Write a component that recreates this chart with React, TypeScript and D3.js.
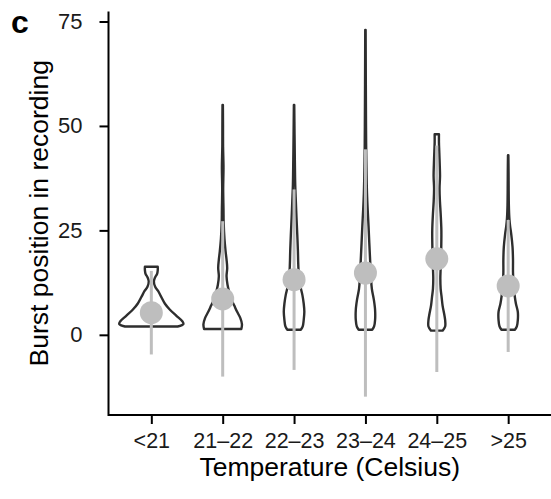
import React, { useRef, useEffect } from 'react'
import * as d3 from 'd3'

// temperature bins
const categories = ['<21', '21–22', '22–23', '23–24', '24–25', '>25']

// mean and sd of burst position per bin
const means = [5.3, 8.6, 13.2, 14.8, 18.2, 11.7]
const sds = [10, 18.6, 21.6, 29.6, 27.1, 15.8]

// violin profiles: [burst position, relative density]
const violinLt21: [number, number][] = [
  [2.0, 0.82], [2.6, 1.0], [3.2, 0.97], [4.5, 0.79], [6.0, 0.58], [7.5, 0.42],
  [9.2, 0.3], [10.5, 0.21], [11.5, 0.12], [12.8, 0.08], [13.8, 0.12],
  [14.6, 0.18], [15.5, 0.2], [16.3, 0.2]
]
const violin2122: [number, number][] = [
  [1.4, 0.58], [2.5, 0.6], [4, 0.55], [5.5, 0.45], [7, 0.36], [8.5, 0.27],
  [10, 0.21], [12, 0.15], [14, 0.12], [16, 0.14], [18, 0.12], [20, 0.09],
  [23, 0.055], [27, 0.03], [30, 0.025], [35, 0.015], [40, 0.025],
  [45, 0.012], [50, 0.01], [55, 0.006]
]
const violin2223: [number, number][] = [
  [1.2, 0.21], [2, 0.27], [3.5, 0.3], [5.5, 0.32], [7.5, 0.3], [9.5, 0.26],
  [11.5, 0.2], [14, 0.15], [17, 0.13], [20, 0.12], [24, 0.1], [28, 0.076],
  [32, 0.055], [36, 0.036], [42, 0.024], [48, 0.015], [55, 0.006]
]
const violin2324: [number, number][] = [
  [1.2, 0.21], [2, 0.27], [3.5, 0.3], [6, 0.3], [8.5, 0.26], [11, 0.2],
  [14, 0.17], [18, 0.145], [22, 0.12], [26, 0.097], [30, 0.07], [34, 0.048],
  [38, 0.036], [44, 0.024], [50, 0.018], [60, 0.012], [73, 0.006]
]
const violin2425: [number, number][] = [
  [1.0, 0.18], [2, 0.26], [3.5, 0.26], [5, 0.23], [7, 0.18], [9, 0.15],
  [11, 0.12], [13.5, 0.11], [16, 0.12], [20, 0.136], [25, 0.142], [29, 0.12],
  [32, 0.097], [35, 0.085], [38, 0.1], [41, 0.09], [44, 0.076], [46, 0.067],
  [48, 0.067]
]
const violinGt25: [number, number][] = [
  [1.2, 0.21], [2, 0.27], [3.5, 0.3], [5.5, 0.3], [7.5, 0.24], [9.5, 0.2],
  [12, 0.167], [15, 0.15], [18, 0.15], [21, 0.136], [24, 0.097], [26, 0.06],
  [28, 0.036], [31, 0.021], [35, 0.015], [39, 0.012], [43, 0.006]
]
const violins = [violinLt21, violin2122, violin2223, violin2324, violin2425, violinGt25]

const yTicks = [0, 25, 50, 75]

const width = 551
const height = 499
const margin = { top: 11.5, right: 0, bottom: 84, left: 108.5 }
const font = '"Liberation Sans", Arial, Helvetica, sans-serif'
const dark = '#2e2e2e'
const grey = '#bebebe'

export default function App() {
  const svgRef = useRef<SVGSVGElement | null>(null)

  useEffect(() => {
    if (!svgRef.current) return
    const svg = d3.select(svgRef.current)
    svg.selectAll('*').remove()

    const x = d3.scalePoint<string>()
      .domain(categories)
      .range([margin.left, width - margin.right])
      .padding(0.6)

    // y range from the data, expanded by 5% like ggplot
    const allVals = [
      ...violins.flatMap(v => v.map(d => d[0])),
      ...means.map((m, i) => m - sds[i]),
      ...means.map((m, i) => m + sds[i])
    ]
    const [lo, hi] = d3.extent(allVals) as [number, number]
    const pad = (hi - lo) * 0.05
    const y = d3.scaleLinear()
      .domain([lo - pad, hi + pad])
      .range([height - margin.bottom, margin.top])

    const maxDens = d3.max(violins.flatMap(v => v.map(d => d[1]))) as number
    const w = d3.scaleLinear().domain([0, maxDens]).range([0, x.step() * 0.45])

    const g = svg.append('g')

    // violins
    violins.forEach((prof, i) => {
      const cx = x(categories[i])!
      const area = d3.area<[number, number]>()
        .y(d => y(d[0]))
        .x0(d => cx - w(d[1]))
        .x1(d => cx + w(d[1]))
        .curve(d3.curveCatmullRom)
      g.append('path')
        .attr('d', area(prof))
        .attr('fill', 'white')
        .attr('stroke', dark)
        .attr('stroke-width', 2.4)
        .attr('stroke-linejoin', 'round')
    })

    // mean ± sd
    g.selectAll('.sd')
      .data(categories)
      .enter().append('line')
      .attr('x1', d => x(d)!)
      .attr('x2', d => x(d)!)
      .attr('y1', (d, i) => y(means[i] - sds[i]))
      .attr('y2', (d, i) => y(means[i] + sds[i]))
      .attr('stroke', grey)
      .attr('stroke-width', 3)

    g.selectAll('.mean')
      .data(categories)
      .enter().append('circle')
      .attr('cx', d => x(d)!)
      .attr('cy', (d, i) => y(means[i]))
      .attr('r', 11.5)
      .attr('fill', grey)

    // y axis
    const yAxis = svg.append('g')
      .attr('transform', `translate(${margin.left},0)`)
      .call(d3.axisLeft(y).tickValues(yTicks).tickSize(9).tickPadding(17))
    yAxis.select('.domain').remove()
    yAxis.selectAll('line').attr('stroke', 'black').attr('stroke-width', 2)
    yAxis.selectAll('text')
      .attr('fill', '#1a1a1a')
      .style('font-family', font)
      .style('font-size', '22px')

    // x axis
    const xAxis = svg.append('g')
      .attr('transform', `translate(0,${height - margin.bottom})`)
      .call(d3.axisBottom(x).tickSize(9).tickPadding(9))
    xAxis.select('.domain').remove()
    xAxis.selectAll('line').attr('stroke', 'black').attr('stroke-width', 2)
    xAxis.selectAll('text')
      .attr('fill', '#1a1a1a')
      .style('font-family', font)
      .style('font-size', '21.5px')

    // axis lines
    svg.append('path')
      .attr('d', `M${margin.left},${margin.top}V${height - margin.bottom}H${width}`)
      .attr('fill', 'none')
      .attr('stroke', 'black')
      .attr('stroke-width', 2)

    // titles
    svg.append('text')
      .attr('transform', `translate(48,${(margin.top + height - margin.bottom) / 2}) rotate(-90)`)
      .attr('text-anchor', 'middle')
      .style('font-family', font)
      .style('font-size', '26.5px')
      .text('Burst position in recording')

    svg.append('text')
      .attr('x', (margin.left + width) / 2)
      .attr('y', 476)
      .attr('text-anchor', 'middle')
      .style('font-family', font)
      .style('font-size', '26.5px')
      .text('Temperature (Celsius)')

    svg.append('text')
      .attr('x', 11)
      .attr('y', 33)
      .style('font-family', font)
      .style('font-size', '32px')
      .style('font-weight', 'bold')
      .text('c')
  }, [])

  return (
    <svg
      ref={svgRef}
      width={width}
      height={height}
      style={{ position: 'absolute', left: 0, top: 0, background: 'white' }}
    />
  )
}
